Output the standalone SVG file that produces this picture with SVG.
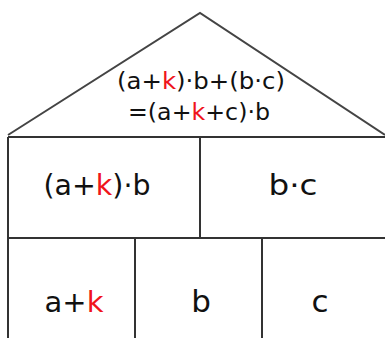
<svg xmlns="http://www.w3.org/2000/svg" width="385" height="338" viewBox="0 0 385 338">
<style>
.ln{stroke:#333;stroke-width:2;fill:none}
.roof{stroke:#444;stroke-width:2;fill:none;stroke-linejoin:miter}
.t{font-family:"DejaVu Sans","Liberation Sans",sans-serif;fill:#111;text-anchor:middle}
.k{fill:#f0141b}
</style>
<rect width="385" height="338" fill="#fff"/>
<g id="connectors">
<polyline class="roof" points="8,135 200,13 385,135"/>
<line class="ln" x1="8" y1="137" x2="385" y2="137"/>
<line class="ln" x1="8" y1="137" x2="8" y2="338"/>
<line class="ln" x1="200" y1="137" x2="200" y2="238"/>
<line class="ln" x1="8" y1="238" x2="385" y2="238"/>
<line class="ln" x1="135" y1="238" x2="135" y2="338"/>
<line class="ln" x1="262" y1="238" x2="262" y2="338"/>
</g>
<g id="roof">
<text class="t" x="201" y="89" font-size="23" textLength="168" lengthAdjust="spacingAndGlyphs">(a+<tspan class="k">k</tspan>)·b+(b·c)</text>
<text class="t" x="199" y="120" font-size="23" textLength="142" lengthAdjust="spacingAndGlyphs">=(a+<tspan class="k">k</tspan>+c)·b</text>
</g>
<g id="cell-akb">
<text class="t" x="97" y="195" font-size="28" textLength="107" lengthAdjust="spacingAndGlyphs">(a+<tspan class="k">k</tspan>)·b</text>
</g>
<g id="cell-bc">
<text class="t" x="293" y="195" font-size="28" textLength="49" lengthAdjust="spacingAndGlyphs">b·c</text>
</g>
<g id="cell-ak">
<text class="t" x="74" y="312" font-size="29">a+<tspan class="k">k</tspan></text>
</g>
<g id="cell-b">
<text class="t" x="201" y="312" font-size="31">b</text>
</g>
<g id="cell-c">
<text class="t" x="320" y="312" font-size="31">c</text>
</g>
</svg>
